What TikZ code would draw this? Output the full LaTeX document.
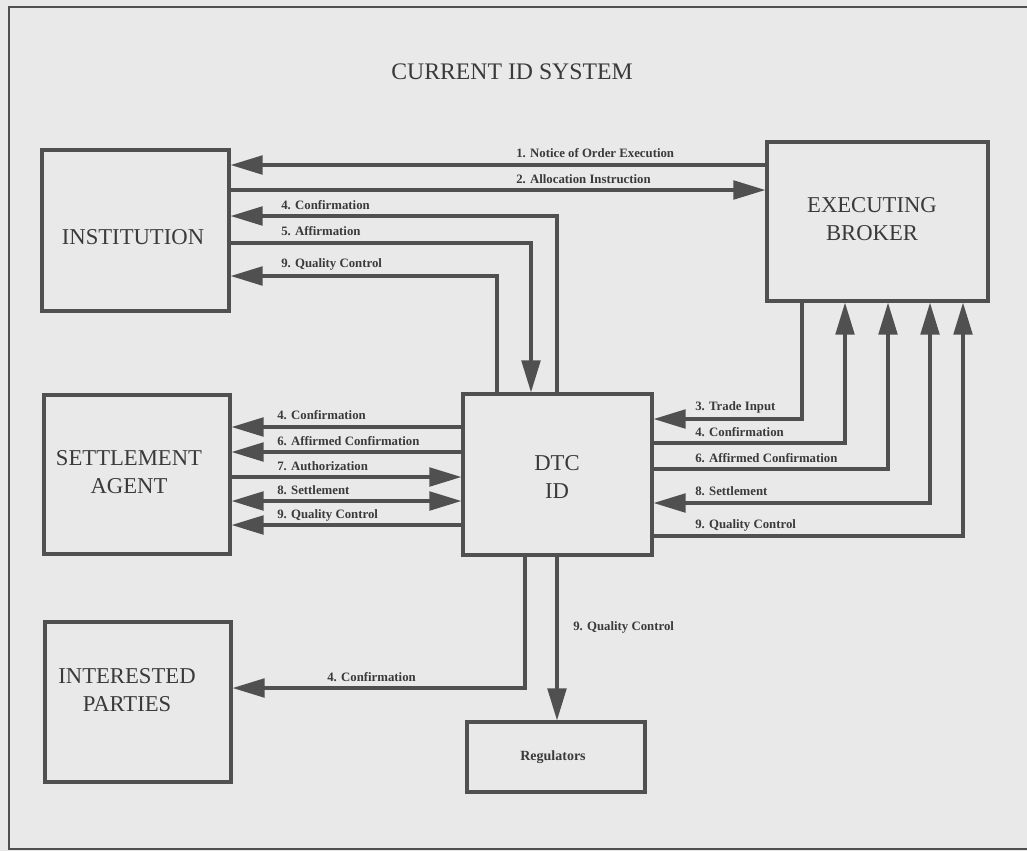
\documentclass[tikz,border=0pt]{standalone}
\usepackage{fontspec}
\setmainfont{Liberation Serif}
\usetikzlibrary{arrows.meta,fit}
\definecolor{bg}{HTML}{E9E9E9}
\definecolor{ink}{HTML}{505050}
\definecolor{txt}{HTML}{3A3A3A}
\begin{document}
\begin{tikzpicture}[x=0.75pt,y=-0.75pt,
  box/.style={draw=ink, line width=2.4pt, inner sep=0pt},
  big/.style={font=\fontsize{17}{21}\selectfont, text=txt, align=center, inner sep=0pt},
  lab/.style={font=\bfseries\fontsize{9.6}{11}\selectfont, text=txt, anchor=west, inner sep=0pt},
  conn/.style={draw=ink, line width=2.4pt, line join=miter},
  arr/.style={conn, -{Triangle[length=24pt,width=14pt]}},
  both/.style={conn, {Triangle[length=24pt,width=14pt]}-{Triangle[length=24pt,width=14pt]}}]
\fill[bg] (0,0) rectangle (1027,851);
\useasboundingbox (0,0) rectangle (1027,851);
% frame
\draw[ink, line width=1.8pt] (1027,7) -- (9,7) -- (9,849) -- (1027,849);
% title
\node[big, font=\fontsize{17.8}{21}\selectfont] (title) at (512,72) {CURRENT ID SYSTEM};
% boxes
\node[box, fit={(42,150)(229,311)}] (inst) {};
\node[big] (instT) at (133,237) {INSTITUTION};
\node[box, fit={(767,142)(988,301)}] (broker) {};
\node[big] (brokerT) at (872,219) {EXECUTING\\BROKER};
\node[box, fit={(44,395)(230,554)}] (settle) {};
\node[big] (settleT) at (129,472) {SETTLEMENT\\AGENT};
\node[box, fit={(45,622)(231,782)}] (inter) {};
\node[big] (interT) at (127,690) {INTERESTED\\PARTIES};
\node[box, fit={(463,394)(652,555)}] (dtc) {};
\node[big] (dtcT) at (557,477) {DTC\\ID};
\node[box, fit={(467,722)(645,792)}] (reg) {};
\node[font=\bfseries\fontsize{10.5}{12}\selectfont, text=txt] (regT) at (553,757) {Regulators};
% institution <-> broker
\draw[arr] (broker.west |- 0,165) -- (inst.east |- 0,165);
\node[lab] at (516,153) {1. Notice of Order Execution};
\draw[arr] (inst.east |- 0,190) -- (broker.west |- 0,190);
\node[lab] at (516,179) {2. Allocation Instruction};
% institution <-> DTC
\draw[arr] (dtc.north -| 557,0) |- (inst.east |- 0,216);
\node[lab] at (281,205) {4. Confirmation};
\draw[arr] (inst.east |- 0,243) -| (dtc.north -| 531,0);
\node[lab] at (281,231) {5. Affirmation};
\draw[arr] (dtc.north -| 497,0) |- (inst.east |- 0,276);
\node[lab] at (281,264) {9. Quality Control};
% settlement agent <-> DTC
\draw[arr] (dtc.west |- 0,427) -- (settle.east |- 0,427);
\node[lab] at (277,415) {4. Confirmation};
\draw[arr] (dtc.west |- 0,452) -- (settle.east |- 0,452);
\node[lab] at (277,441) {6. Affirmed Confirmation};
\draw[arr] (settle.east |- 0,477) -- (dtc.west |- 0,477);
\node[lab] at (277,466) {7. Authorization};
\draw[both] (settle.east |- 0,501) -- (dtc.west |- 0,501);
\node[lab] at (277,490) {8. Settlement};
\draw[arr] (dtc.west |- 0,525) -- (settle.east |- 0,525);
\node[lab] at (277,515) {9. Quality Control};
% broker <-> DTC
\draw[arr] (broker.south -| 802,0) |- (dtc.east |- 0,419);
\node[lab] at (695,407) {3. Trade Input};
\draw[arr] (dtc.east |- 0,443) -| (broker.south -| 845,0);
\node[lab] at (695,432) {4. Confirmation};
\draw[arr] (dtc.east |- 0,469) -| (broker.south -| 888,0);
\node[lab] at (695,458) {6. Affirmed Confirmation};
\draw[both] (dtc.east |- 0,503) -| (broker.south -| 930,0);
\node[lab] at (695,491) {8. Settlement};
\draw[arr] (dtc.east |- 0,536) -| (broker.south -| 963,0);
\node[lab] at (695,525) {9. Quality Control};
% DTC -> interested parties, regulators
\draw[arr] (dtc.south -| 525,0) |- (inter.east |- 0,688);
\node[lab] at (327,677) {4. Confirmation};
\draw[arr] (dtc.south -| 557,0) -- (reg.north -| 557,0);
\node[lab] at (573,627) {9. Quality Control};
\end{tikzpicture}
\end{document}
